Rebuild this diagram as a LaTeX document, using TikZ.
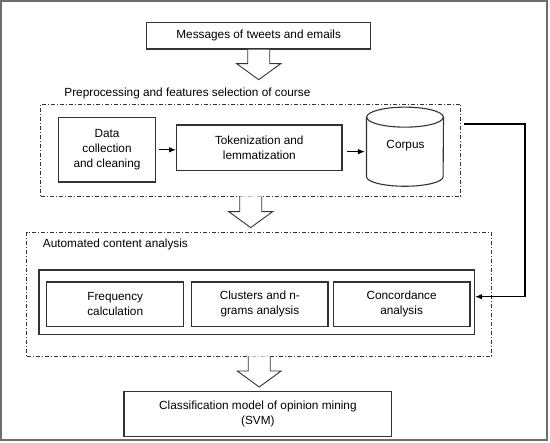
\documentclass[tikz,border=0pt]{standalone}
\usepackage{fontspec}
\usepackage{tikz}
\usetikzlibrary{arrows.meta,calc,positioning}
\setmainfont{Liberation Sans}
\definecolor{ink}{HTML}{333333}
\definecolor{rim}{HTML}{6E6E6E}
\newcommand{\hollowarrow}[2]{%
\draw[hollow] let \p1=(#1),\p2=(#2) in
 (\x1-11pt,\y1)--(\x1-11pt,\y2+16pt)--(\x1-22pt,\y2+16pt)--(\x1,\y2)
 --(\x1+22pt,\y2+16pt)--(\x1+11pt,\y2+16pt)--(\x1+11pt,\y1);}

\begin{document}
\begin{tikzpicture}[x=1pt,y=-1pt,>={Latex[length=7pt,width=5.5pt]},
 font=\fontsize{11.8}{15}\selectfont,
 box/.style={draw=ink,line width=1.1pt,align=center,inner sep=0pt},
 group/.style={draw=ink,line width=.8pt,dash pattern=on 4pt off 2pt on 1pt off 2pt,inner sep=0pt},
 hollow/.style={draw=ink,line width=.9pt,fill=white},
 link/.style={draw=black,line width=1.1pt,->}]
\useasboundingbox (0,0) rectangle (550,443);
\draw[rim,line width=2pt] (1,1) rectangle (547,440.5);
\node[box,minimum width=224,minimum height=26.3] (msg) at (258.7,35.9) {Messages of tweets and emails};
\node[group,minimum width=420,minimum height=92] (pre) at (250.7,150.1) {};
\node[anchor=base west,inner sep=0pt] (prelabel) at (64.2,97) {Preprocessing and features selection of course};
\node[box,minimum width=97.4,minimum height=64.3] (data) at (107,149.85) {Data\\collection\\and cleaning};
\node[box,minimum width=165.3,minimum height=45.7] (tok) at (259.3,147.85) {Tokenization and\\lemmatization};
\node[inner sep=0pt,minimum width=76.6,minimum height=78.7] (corpus) at (405,146.7) {};
\node at (405.5,145.7) {Corpus};
% corpus drum
\draw[ink,line width=1.1pt] ($(corpus.north)+(0,10)$) ellipse [x radius=38.3pt,y radius=10pt];
\draw[ink,line width=1.1pt] ($(corpus.north west)+(0,10)$) -- ($(corpus.south west)+(0,-9.5)$)
 arc [start angle=180,end angle=360,x radius=38.3pt,y radius=9.5pt] -- ($(corpus.north east)+(0,10)$);
\node[group,minimum width=465,minimum height=123.5] (auto) at (259.2,294.25) {};
\node[anchor=base west,inner sep=0pt] (autolabel) at (42.7,247.5) {Automated content analysis};
\node[box,minimum width=435.5,minimum height=64.3] (inner) at (256.75,302.15) {};
\node[box,minimum width=137,minimum height=44.7] (freq) at (115.2,304.35) {Frequency\\calculation};
\node[box,minimum width=136.3,minimum height=44.7] (clus) at (259.85,304.35) {Clusters and n-\\grams analysis};
\node[box,minimum width=136.8,minimum height=44.7] (conc) at (401.6,304.35) {Concordance\\analysis};
\node[box,minimum width=267.8,minimum height=44.7] (svm) at (257.9,414.2) {Classification model of opinion mining\\(SVM)};
\hollowarrow{msg.south}{[yshift=24pt]pre.north}
\hollowarrow{pre.south}{[yshift=4.5pt]auto.north}
\hollowarrow{auto.south}{[yshift=4.3pt]svm.north}
\draw[link,shorten <=2.6pt] (data.east) -- (data.east -| tok.west);
\draw[link,shorten <=4.6pt,shorten >=1.6pt] ($(tok.east)+(0,3.8)$) -- ($(corpus.west |- tok.east)+(0,3.8)$);
\coordinate (out) at (464,124);
\draw[link] (out) -- (525,124) |- ($(inner.east)+(0,-5.45)$);
\end{tikzpicture}
\end{document}
